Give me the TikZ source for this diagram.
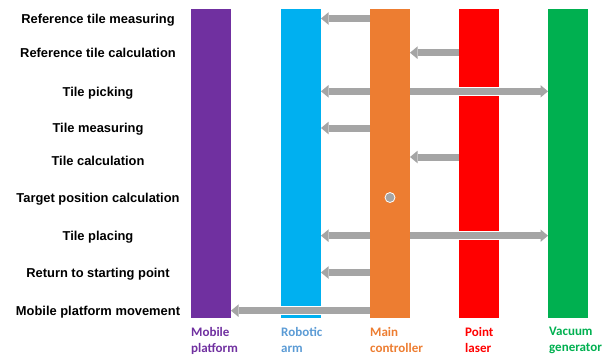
\documentclass[tikz,border=0pt]{standalone}
\usepackage{fontspec}
\setmainfont{Liberation Sans}
\newfontfamily\legendfont{Carlito}
\usepackage{xcolor}
\usepackage{tikz}
\usetikzlibrary{positioning,arrows.meta,calc}

\definecolor{platformc}{HTML}{7030A0}
\definecolor{armc}{HTML}{00B0F0}
\definecolor{armtext}{HTML}{5B9BD5}
\definecolor{ctrlc}{HTML}{ED7D31}
\definecolor{laserc}{HTML}{FF0000}
\definecolor{vacc}{HTML}{00B050}
\definecolor{msggray}{HTML}{A5A5A5}

\begin{document}
\begin{tikzpicture}[x=1pt, y=-1pt,
    bar/.style={minimum width=40pt, minimum height=309pt, inner sep=0pt, outer sep=0pt},
    rowlab/.style={font=\bfseries\fontsize{12.9}{15}\selectfont, text height=12.4pt, text depth=2.7pt, inner sep=0pt},
    legend/.style={font=\legendfont\bfseries\fontsize{13}{16}\selectfont, align=left, anchor=north west, inner sep=0pt},
    msg/.style={draw=msggray, line width=7pt, -{Triangle[width=12.5pt, length=7.5pt, line width=0pt]},
        preaction={draw=white, line width=9pt, -{Triangle[width=15.5pt, length=9.5pt, line width=0pt]}}}]

    \useasboundingbox (0,0) rectangle (608,356);

    % Bars for the five devices
    \node[bar, fill=platformc] (platform) at (211,163.5) {};
    \node[bar, fill=armc] (arm) at (301,163.5) {};
    \node[bar, fill=ctrlc] (ctrl) at (390,163.5) {};
    \node[bar, fill=laserc] (laser) at (479,163.5) {};
    \node[bar, fill=vacc] (vac) at (568,163.5) {};

    % Device names under the bars
    \node[legend, text=platformc] (platformlab) at ([yshift=-9pt]platform.south west) {Mobile\\platform};
    \node[legend, text=armtext] (armlab) at ([yshift=-9pt]arm.south west) {Robotic\\arm};
    \node[legend, text=ctrlc] (ctrllab) at ([yshift=-9pt]ctrl.south west) {Main\\controller};
    \node[legend, text=laserc] (laserlab) at ([xshift=6pt,yshift=-9pt]laser.south west) {Point\\laser};
    \node[legend, text=vacc] (vaclab) at ([xshift=1pt,yshift=-9pt]vac.south west) {Vacuum\\generator};

    % Steps on the left, one per row
    \node[rowlab] (refmeas) at (98,18.5) {Reference tile measuring};
    \node[rowlab] (refcalc) at (98,52.7) {Reference tile calculation};
    \node[rowlab] (pick) at (98,91.3) {Tile picking};
    \node[rowlab] (meas) at (98,128) {Tile measuring};
    \node[rowlab] (calc) at (98,161) {Tile calculation};
    \node[rowlab] (target) at (98,197.5) {Target position calculation};
    \node[rowlab] (place) at (98,235.7) {Tile placing};
    \node[rowlab] (back) at (98,272.5) {Return to starting point};
    \node[rowlab] (move) at (98,310.7) {Mobile platform movement};

    % Messages between the devices
    \draw[msg] (ctrl.west |- refmeas) -- (arm.east |- refmeas);
    \draw[msg] (laser.west |- refcalc) -- (ctrl.east |- refcalc);
    \draw[msg] (ctrl.west |- pick) -- (arm.east |- pick);
    \draw[msg] (ctrl.east |- pick) -- (vac.west |- pick);
    \draw[msg] (ctrl.west |- meas) -- (arm.east |- meas);
    \draw[msg] ($(laser.west |- calc)+(0,-4)$) -- ($(ctrl.east |- calc)+(0,-4)$);
    \node[circle, fill=msggray, draw=white, line width=0.8pt, minimum size=10pt, inner sep=0pt] (dot) at (ctrl |- target) {};
    \draw[msg] (ctrl.west |- place) -- (arm.east |- place);
    \draw[msg] (ctrl.east |- place) -- (vac.west |- place);
    \draw[msg] (ctrl.west |- back) -- (arm.east |- back);
    \draw[msg] (ctrl.west |- move) -- (platform.east |- move);

\end{tikzpicture}
\end{document}
